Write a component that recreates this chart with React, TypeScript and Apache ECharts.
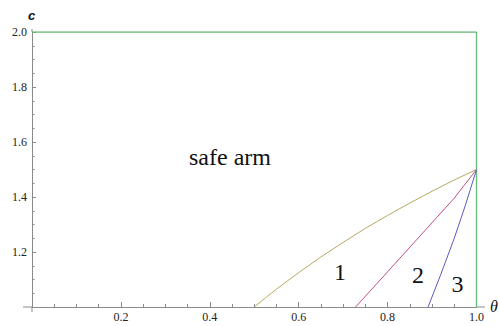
import React, { useEffect, useRef } from "react";
import * as echarts from "echarts";

// Curve 1 (olive): theta, c
const curve1Theta = [0.5, 0.525, 0.55, 0.575, 0.6, 0.65, 0.7, 0.75, 0.8, 0.85, 0.9, 0.95, 1.0];
const curve1C = [1.0, 1.033, 1.065, 1.095, 1.125, 1.182, 1.235, 1.286, 1.333, 1.378, 1.421, 1.462, 1.5];
// Curve 2 (magenta)
const curve2Theta = [0.728, 0.8, 0.875, 0.95, 1.0];
const curve2C = [1.0, 1.128, 1.262, 1.396, 1.5];
// Curve 3 (blue)
const curve3Theta = [0.891, 0.92, 0.95, 0.975, 1.0];
const curve3C = [1.0, 1.12, 1.25, 1.37, 1.5];
// Green boundary
const boundaryTheta = [0, 1, 1];
const boundaryC = [2, 2, 1];

const regionLabels = ["safe arm", "1", "2", "3"];

const zip = (xs: number[], ys: number[]) => xs.map((x, i) => [x, ys[i]]);

const SERIF = "Liberation Serif";

export default function App() {
  const ref = useRef<HTMLDivElement>(null);
  useEffect(() => {
    if (!ref.current) return;
    const chart = echarts.init(ref.current, undefined, { renderer: "svg" });
    const axisColor = "#8a8a8a";
    const lineSeries = (data: number[][], color: string, width: number) => ({
      type: "line",
      data,
      showSymbol: false,
      symbol: "none",
      smooth: false,
      lineStyle: { color, width },
      silent: true,
    });
    const label = (text: string, x: number, y: number, size: number) => ({
      type: "text",
      x,
      y,
      style: {
        text,
        fontFamily: SERIF,
        fontSize: size,
        fill: "#111",
        textAlign: "center",
        textVerticalAlign: "middle",
      },
    });
    chart.setOption({
      animation: false,
      backgroundColor: "#ffffff",
      grid: { left: 32, right: 22.5, top: 32, bottom: 19 },
      xAxis: {
        type: "value",
        min: 0,
        max: 1,
        interval: 0.2,
        axisLine: { show: true, lineStyle: { color: axisColor, width: 1 } },
        axisTick: { show: true, inside: true, length: 5, lineStyle: { color: axisColor } },
        minorTick: { show: true, splitNumber: 4, length: 3, lineStyle: { color: axisColor } },
        splitLine: { show: false },
        axisLabel: {
          margin: 4,
          fontFamily: SERIF,
          fontSize: 12,
          color: "#222",
          formatter: (v: number) => (Math.abs(v) < 1e-9 ? "" : v.toFixed(1)),
        },
      },
      yAxis: {
        type: "value",
        min: 1,
        max: 2,
        interval: 0.2,
        axisLine: { show: true, lineStyle: { color: axisColor, width: 1 } },
        axisTick: { show: true, inside: true, length: 4, lineStyle: { color: axisColor } },
        minorTick: { show: true, splitNumber: 4, length: 2.5, lineStyle: { color: axisColor } },
        splitLine: { show: false },
        axisLabel: {
          margin: 5,
          fontFamily: SERIF,
          fontSize: 12,
          color: "#222",
          formatter: (v: number) => (Math.abs(v - 1) < 1e-9 ? "" : v.toFixed(1)),
        },
      },
      series: [
        lineSeries(zip(boundaryTheta, boundaryC), "#66bb78", 1.3),
        lineSeries(zip(curve1Theta, curve1C), "#b8a862", 1),
        lineSeries(zip(curve2Theta, curve2C), "#c0508a", 1),
        lineSeries(zip(curve3Theta, curve3C), "#5a5ac0", 1),
      ],
      graphic: [
        { type: "line", shape: { x1: 23, y1: 307, x2: 32, y2: 307 }, style: { stroke: axisColor, lineWidth: 1 } },
        { type: "line", shape: { x1: 476.5, y1: 307, x2: 485, y2: 307 }, style: { stroke: axisColor, lineWidth: 1 } },
        { type: "line", shape: { x1: 32, y1: 307, x2: 32, y2: 312 }, style: { stroke: axisColor, lineWidth: 1 } },
        { type: "line", shape: { x1: 32, y1: 29, x2: 32, y2: 32 }, style: { stroke: axisColor, lineWidth: 1 } },
        {
          type: "text",
          x: 31.5,
          y: 15,
          style: {
            text: "c",
            fontFamily: "Liberation Sans",
            fontSize: 13,
            fontStyle: "italic",
            fontWeight: "bold",
            fill: "#111",
            textAlign: "center",
            textVerticalAlign: "middle",
          },
        },
        {
          type: "text",
          x: 490,
          y: 306,
          style: {
            text: "θ",
            fontFamily: SERIF,
            fontSize: 16,
            fontStyle: "italic",
            fill: "#111",
            textAlign: "left",
            textVerticalAlign: "middle",
          },
        },
        label(regionLabels[0], 230, 157, 24),
        label(regionLabels[1], 340, 272, 24),
        label(regionLabels[2], 418, 275, 24),
        label(regionLabels[3], 457.5, 283.5, 24),
      ],
    });
    return () => chart.dispose();
  }, []);
  return (
    <div
      ref={ref}
      style={{ position: "fixed", left: 0, top: 0, width: 499, height: 326, background: "#fff" }}
    />
  );
}
